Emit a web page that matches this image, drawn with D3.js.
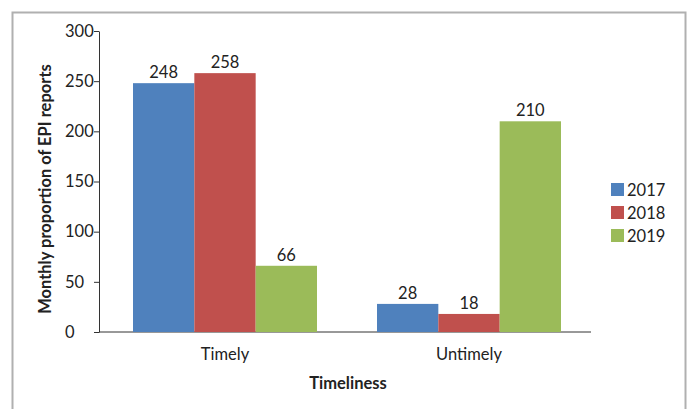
<!DOCTYPE html>
<html>
<head>
<meta charset="utf-8">
<script src="https://cdn.jsdelivr.net/npm/d3@7"></script>
<style>
  body { margin: 0; background: #fff; }
  text { font-family: Lato, "Open Sans", sans-serif; fill: #222; }
</style>
</head>
<body>
<div class="chart"></div>
<script>
// data
var categories = ["Timely", "Untimely"];
var years = ["2017", "2018", "2019"];
var values2017 = [248, 28];
var values2018 = [258, 18];
var values2019 = [66, 210];
var yTicks = [0, 50, 100, 150, 200, 250, 300];
var colors = ["#4F81BD", "#C0504D", "#9BBB59"];

var series = [values2017, values2018, values2019];

var width = 688, height = 409;

var svg = d3.select(".chart").append("svg")
    .attr("width", width)
    .attr("height", height);

// outer frame
svg.append("rect")
    .attr("x", 12.5).attr("y", 12.5)
    .attr("width", 673).attr("height", 410)
    .attr("fill", "none")
    .attr("stroke", "#b0b0b0")
    .attr("stroke-width", 2);

// scales
var x0 = d3.scaleBand().domain(categories).range([103, 591]).paddingInner(0).paddingOuter(0);
var x1 = d3.scaleBand().domain(years).range([30, x0.bandwidth() - 30]);
var y = d3.scaleLinear().domain([0, 300]).range([332, 31]);

// y axis (labels are left-aligned in the original)
var yAxis = svg.append("g")
    .attr("transform", "translate(99,0)")
    .call(d3.axisLeft(y).tickValues(yTicks).tickSize(5).tickSizeOuter(0));
yAxis.select(".domain").attr("stroke", "#333");
yAxis.selectAll(".tick line").attr("stroke", "#333");
yAxis.selectAll(".tick text")
    .attr("x", -34)
    .attr("text-anchor", "start")
    .style("font-size", "16.5px")
    .style("font-family", "Lato, 'Open Sans', sans-serif")
    .attr("fill", "#222");

// x axis line
svg.append("path")
    .attr("d", "M99," + y(0) + "H" + x0.range()[1])
    .attr("stroke", "#333");

// category labels
svg.append("g").selectAll("text")
    .data(categories)
    .enter()
    .append("text")
    .attr("x", (d)=>x0(d) + x0.bandwidth() / 2)
    .attr("y", 360)
    .attr("text-anchor", "middle")
    .style("font-size", "16.5px")
    .text((d)=>d);

// bars
var groups = svg.append("g").selectAll("g")
    .data(series)
    .enter()
    .append("g")
    .attr("fill", (d, i)=>colors[i]);

groups.selectAll("rect")
    .data((d, i)=>d.map((v, j)=>({cat: categories[j], year: years[i], value: v})))
    .enter()
    .append("rect")
    .attr("x", (d)=>x0(d.cat) + x1(d.year))
    .attr("width", x1.bandwidth())
    .attr("y", (d)=>y(d.value))
    .attr("height", (d)=>y(0) - y(d.value));

// value labels
groups.selectAll("text")
    .data((d, i)=>d.map((v, j)=>({cat: categories[j], year: years[i], value: v})))
    .enter()
    .append("text")
    .attr("x", (d)=>x0(d.cat) + x1(d.year) + x1.bandwidth() / 2)
    .attr("y", (d)=>y(d.value) - 5)
    .attr("text-anchor", "middle")
    .style("font-size", "16.5px")
    .attr("fill", "#222")
    .text((d)=>d.value);

// axis titles
svg.append("text")
    .attr("transform", "translate(51,189) rotate(-90)")
    .attr("text-anchor", "middle")
    .style("font-size", "16.5px")
    .style("font-weight", "bold")
    .text("Monthly proportion of EPI reports");

svg.append("text")
    .attr("x", 348)
    .attr("y", 389)
    .attr("text-anchor", "middle")
    .style("font-size", "16.5px")
    .style("font-weight", "bold")
    .text("Timeliness");

// legend
var legend = svg.append("g").selectAll("g")
    .data(years)
    .enter()
    .append("g")
    .attr("transform", (d, i)=>"translate(611," + (183 + i * 23) + ")");

legend.append("rect")
    .attr("width", 13)
    .attr("height", 13)
    .attr("fill", (d, i)=>colors[i]);

legend.append("text")
    .attr("x", 16)
    .attr("y", 13)
    .style("font-size", "16.5px")
    .text((d)=>d);
</script>
</body>
</html>
